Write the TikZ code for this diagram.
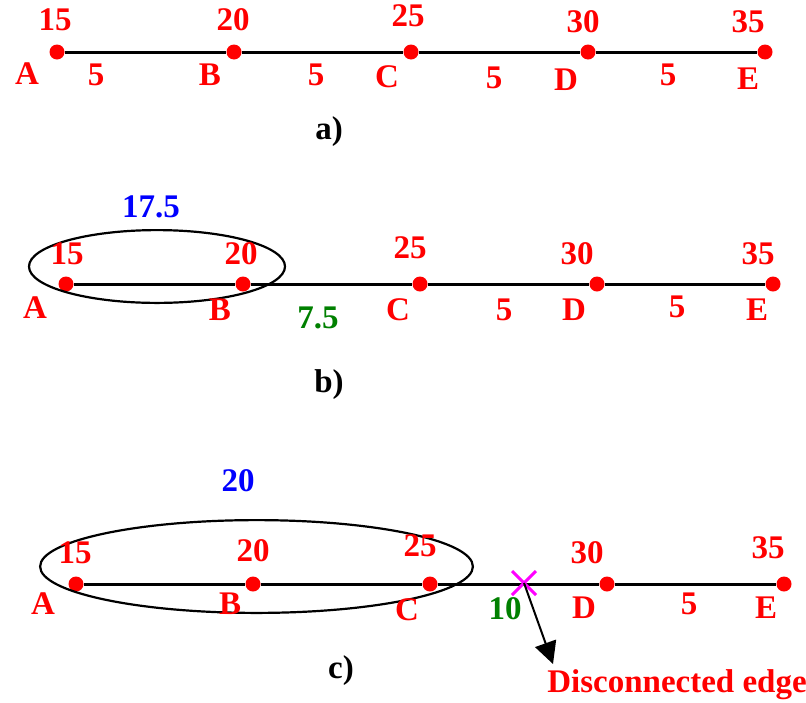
\documentclass[tikz,border=0pt]{standalone}
\usepackage{fontspec}
\setmainfont{Liberation Serif}
\usetikzlibrary{arrows.meta}
\definecolor{dkgreen}{RGB}{0,128,0}
\definecolor{pmag}{RGB}{255,0,255}
\begin{document}
\begin{tikzpicture}[x=0.5pt,y=-0.5pt,
  lbl/.style={text=red,font=\fontsize{16.5}{19}\selectfont\bfseries,inner sep=0pt},
  wgt/.style={lbl},
  sumlbl/.style={lbl,text=blue},
  grn/.style={lbl,text=dkgreen},
  caplbl/.style={lbl,text=black},
  vdot/.style={circle,fill=red,inner sep=0pt,minimum size=7.5pt},
  edgeline/.style={line width=1.5pt,black},
  cluster/.style={line width=1.1pt,black},
  cross/.style={line width=1.5pt,pmag}]
\useasboundingbox (0,0) rectangle (806,702);

% ---------- a) ----------
\node[vdot] (aA) at (57,52) {};
\node[vdot] (aB) at (234,52) {};
\node[vdot] (aC) at (411,52) {};
\node[vdot] (aD) at (588,52) {};
\node[vdot] (aE) at (765,52) {};
\draw[edgeline] (aA) -- (aB) -- (aC) -- (aD) -- (aE);
\node[lbl] (an1) at (55,20) {15};
\node[lbl] (an2) at (233,20) {20};
\node[lbl] (an3) at (408,16) {25};
\node[lbl] (an4) at (583,22) {30};
\node[lbl] (an5) at (748,22) {35};
\node[lbl] (alA) at (27,74) {A};
\node[lbl] (alB) at (210,75) {B};
\node[lbl] (alC) at (387,77) {C};
\node[lbl] (alD) at (566,80) {D};
\node[lbl] (alE) at (748,79) {E};
\node[wgt] (aw1) at (96,75) {5};
\node[wgt] (aw2) at (316,75) {5};
\node[wgt] (aw3) at (494,78) {5};
\node[wgt] (aw4) at (668,75) {5};
\node[caplbl] (capa) at (329,132) {a)};

% ---------- b) ----------
\node[vdot] (bA) at (66,284) {};
\node[vdot] (bB) at (243,284) {};
\node[vdot] (bC) at (420,284) {};
\node[vdot] (bD) at (597,284) {};
\node[vdot] (bE) at (773,284) {};
\draw[edgeline] (bA) -- (bB) -- (bC) -- (bD) -- (bE);
\draw[cluster] (157,266.5) ellipse [x radius=64pt, y radius=18.2pt];
\node[lbl] (bn1) at (67,254) {15};
\node[lbl] (bn2) at (241,254) {20};
\node[lbl] (bn3) at (410,248) {25};
\node[lbl] (bn4) at (577,254) {30};
\node[lbl] (bn5) at (758,254) {35};
\node[lbl] (blA) at (35,308) {A};
\node[lbl] (blB) at (220,310) {B};
\node[lbl] (blC) at (398,310) {C};
\node[lbl] (blD) at (574,310) {D};
\node[lbl] (blE) at (757,310) {E};
\node[sumlbl] (bs) at (151,207) {17.5};
\node[grn] (bw1) at (318,318) {7.5};
\node[wgt] (bw2) at (504,310) {5};
\node[wgt] (bw3) at (677,307) {5};
\node[caplbl] (capb) at (329,385) {b)};

% ---------- c) ----------
\node[vdot] (cA) at (76,584) {};
\node[vdot] (cB) at (253,584) {};
\node[vdot] (cC) at (430,584) {};
\node[vdot] (cD) at (607,584) {};
\node[vdot] (cE) at (784,584) {};
\draw[edgeline] (cA) -- (cB) -- (cC) -- (cD) -- (cE);
\draw[cluster] (256.5,566.5) ellipse [x radius=108.2pt, y radius=23.2pt];
\coordinate (cut) at (524,583);
\draw[cross] (512,571) -- (536,595) (512,595) -- (536,571);
\coordinate (tip) at (553,664);
\draw[line width=1pt,-{Triangle[length=11pt,width=11pt]}] (cut) -- (tip);
\node[lbl] (cn1) at (75,553) {15};
\node[lbl] (cn2) at (253,551) {20};
\node[lbl] (cn3) at (420,546) {25};
\node[lbl] (cn4) at (587,553) {30};
\node[lbl] (cn5) at (768,548) {35};
\node[lbl] (clA) at (43,604) {A};
\node[lbl] (clB) at (230,604) {B};
\node[lbl] (clC) at (407,610) {C};
\node[lbl] (clD) at (584,608) {D};
\node[lbl] (clE) at (766,608) {E};
\node[sumlbl] (cs) at (238,481) {20};
\node[grn] (cw1) at (505,609) {10};
\node[wgt] (cw2) at (689,604) {5};
\node[caplbl] (capc) at (341,671) {c)};
\node[lbl] (disc) at (677,685) {Disconnected edge};
\end{tikzpicture}
\end{document}
